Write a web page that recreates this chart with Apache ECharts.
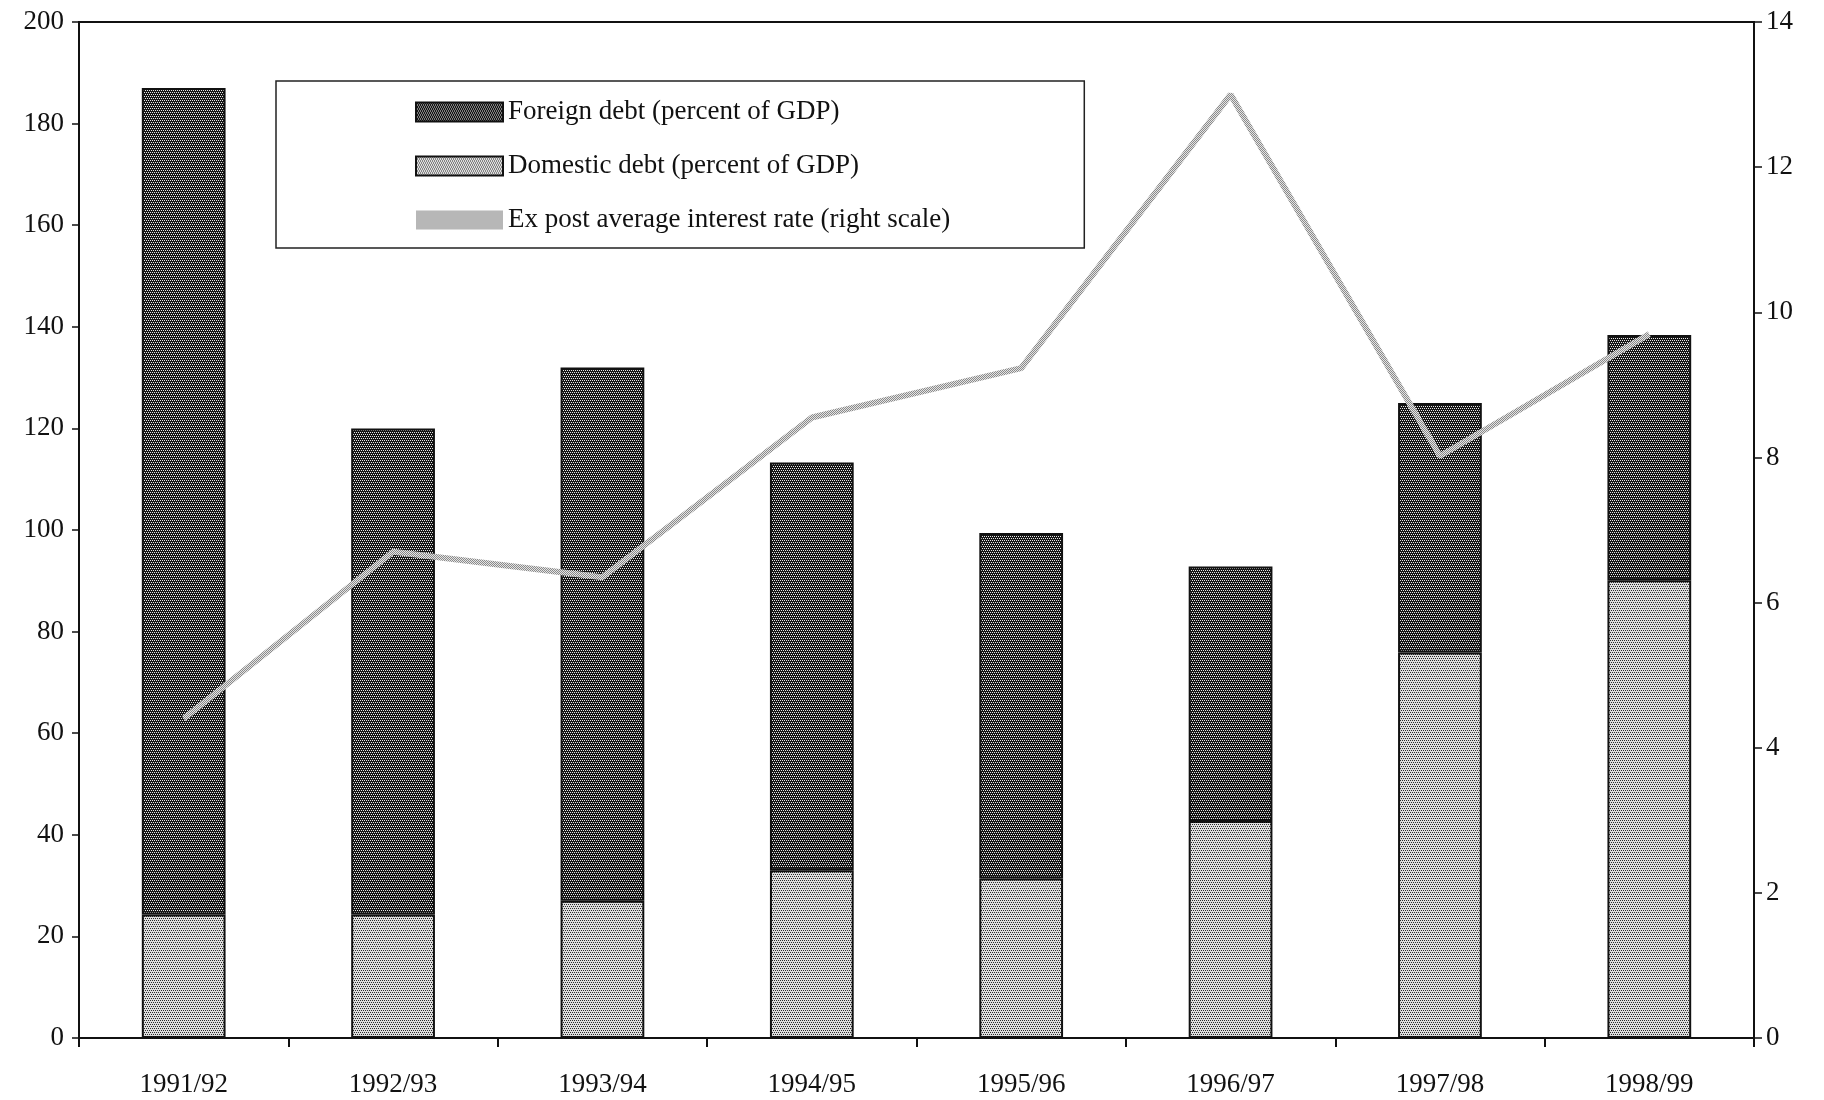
<!DOCTYPE html>
<html>
<head>
<meta charset="utf-8">
<script src="https://cdn.jsdelivr.net/npm/echarts@6/dist/echarts.min.js"></script>
<style>
html,body{margin:0;padding:0;background:#fff;}
#chart{width:1824px;height:1100px;}
</style>
</head>
<body>
<div id="chart"></div>
<script>
var categories = ['1991/92','1992/93','1993/94','1994/95','1995/96','1996/97','1997/98','1998/99'];
var domesticDebt = [24.3, 24.3, 27.0, 33.0, 31.4, 42.7, 75.9, 90.1];
var foreignDebt = [162.7, 95.7, 105.0, 80.3, 68.0, 50.1, 49.1, 48.3];
var interestRate = [4.4, 6.7, 6.35, 8.55, 9.23, 13.0, 8.02, 9.7];
var leftTicks = {min: 0, max: 200, interval: 20};
var rightTicks = {min: 0, max: 14, interval: 2};

function makePattern(base, dot, pts, size) {
  var c = document.createElement('canvas');
  c.width = size; c.height = size;
  var g = c.getContext('2d');
  g.fillStyle = base; g.fillRect(0, 0, size, size);
  g.fillStyle = dot;
  pts.forEach(function (p) { g.fillRect(p[0], p[1], 1, 1); });
  return {image: c, repeat: 'repeat'};
}
var darkPat = makePattern('#151515', '#e8e8e8', [[0,0],[2,0],[1,2],[3,2]], 4);
var lightPat = makePattern('#dedede', '#2a2a2a', [[0,0],[2,0],[1,2],[3,2]], 4);
var linePat = makePattern('#e4e4e4', '#8a8a8a', [[0,0],[1,1]], 2);

var FONT = 'Liberation Serif';
var chart = echarts.init(document.getElementById('chart'));
chart.setOption({
  backgroundColor: '#fff',
  animation: false,
  grid: {left: 79, right: 70, top: 22, bottom: 62, show: true, borderColor: '#111', borderWidth: 2, backgroundColor: 'transparent'},
  legend: {
    orient: 'vertical',
    left: 276, top: 81,
    padding: [16, 134, 13, 139],
    borderColor: '#222', borderWidth: 1.5,
    itemWidth: 87, itemHeight: 19, itemGap: 24,
    textStyle: {fontFamily: FONT, fontSize: 27, color: '#111', lineHeight: 30},
    data: [
      {name: 'Foreign debt (percent of GDP)', icon: 'rect'},
      {name: 'Domestic debt (percent of GDP)', icon: 'rect'},
      {name: 'Ex post average interest rate (right scale)', icon: 'rect', itemStyle: {color: linePat, borderWidth: 0}}
    ]
  },
  xAxis: {
    type: 'category',
    data: categories,
    boundaryGap: true,
    axisLine: {lineStyle: {color: '#111', width: 2}},
    axisTick: {show: true, inside: false, length: 9, lineStyle: {color: '#111', width: 2}},
    axisLabel: {fontFamily: FONT, fontSize: 27, color: '#111', margin: 33}
  },
  yAxis: [
    {
      type: 'value', position: 'left',
      min: leftTicks.min, max: leftTicks.max, interval: leftTicks.interval,
      splitLine: {show: false},
      axisLine: {show: true, lineStyle: {color: '#111', width: 2}},
      axisTick: {show: true, length: 7, lineStyle: {color: '#111', width: 1.5}},
      axisLabel: {fontFamily: FONT, fontSize: 27, color: '#111', margin: 15}
    },
    {
      type: 'value', position: 'right',
      min: rightTicks.min, max: rightTicks.max, interval: rightTicks.interval,
      splitLine: {show: false},
      axisLine: {show: true, lineStyle: {color: '#111', width: 2}},
      axisTick: {show: true, length: 8, lineStyle: {color: '#111', width: 1.5}},
      axisLabel: {fontFamily: FONT, fontSize: 27, color: '#111', margin: 12}
    }
  ],
  series: [
    {
      name: 'Domestic debt (percent of GDP)',
      type: 'bar', stack: 'debt', barWidth: '40%',
      data: domesticDebt,
      itemStyle: {color: lightPat, borderColor: '#111', borderWidth: 2}
    },
    {
      name: 'Foreign debt (percent of GDP)',
      type: 'bar', stack: 'debt', barWidth: '40%',
      data: foreignDebt,
      itemStyle: {color: darkPat, borderColor: '#111', borderWidth: 2}
    },
    {
      name: 'Ex post average interest rate (right scale)',
      type: 'line', yAxisIndex: 1,
      data: interestRate,
      symbol: 'none',
      lineStyle: {color: linePat, width: 6},
      itemStyle: {color: linePat},
      z: 5
    }
  ]
});
</script>
</body>
</html>
